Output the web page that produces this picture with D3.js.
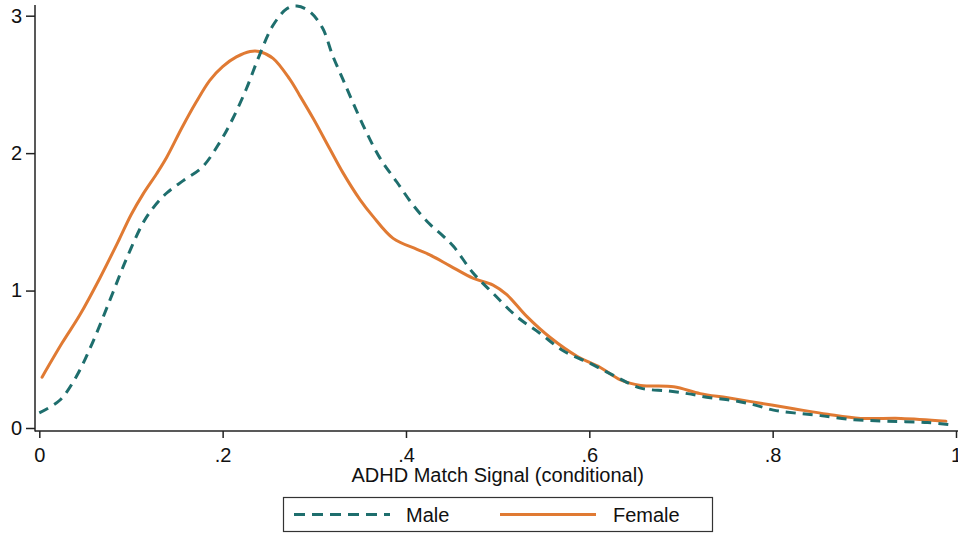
<!DOCTYPE html>
<html>
<head>
<meta charset="utf-8">
<script src="https://cdn.jsdelivr.net/npm/d3@7"></script>
<style>
  html, body { margin: 0; padding: 0; background: #fff; }
  svg { display: block; font-family: "Liberation Sans", Arial, sans-serif; }
</style>
</head>
<body>
<svg id="chart" width="958" height="533"></svg>
<script>
// ---- Data ----
const seriesNames = ["Male", "Female"];
const maleX = [0.000,0.022,0.040,0.058,0.077,0.095,0.113,0.124,0.139,0.157,0.178,0.197,0.211,0.226,0.240,0.255,0.270,0.281,0.295,0.309,0.320,0.331,0.342,0.357,0.372,0.390,0.408,0.425,0.440,0.452,0.473,0.495,0.521,0.546,0.572,0.601,0.630,0.656,0.685,0.707,0.732,0.757,0.779,0.801,0.823,0.852,0.889,0.925,0.969,0.998];
const maleY = [0.11,0.20,0.37,0.62,0.93,1.23,1.49,1.60,1.71,1.80,1.90,2.08,2.25,2.47,2.71,2.93,3.05,3.07,3.03,2.91,2.71,2.54,2.37,2.15,1.96,1.79,1.62,1.49,1.40,1.32,1.13,0.98,0.81,0.69,0.56,0.47,0.37,0.29,0.27,0.25,0.22,0.20,0.17,0.13,0.11,0.09,0.06,0.05,0.04,0.02];
const femaleX = [0.003,0.025,0.044,0.066,0.087,0.100,0.113,0.128,0.139,0.156,0.171,0.186,0.200,0.215,0.230,0.240,0.255,0.273,0.284,0.299,0.317,0.331,0.350,0.364,0.386,0.412,0.426,0.448,0.473,0.495,0.510,0.532,0.557,0.587,0.612,0.634,0.656,0.692,0.721,0.751,0.787,0.823,0.860,0.896,0.940,0.989];
const femaleY = [0.37,0.62,0.82,1.09,1.37,1.55,1.70,1.85,1.97,2.19,2.37,2.53,2.63,2.70,2.74,2.74,2.69,2.54,2.42,2.25,2.03,1.86,1.66,1.54,1.38,1.30,1.26,1.18,1.09,1.04,0.97,0.81,0.66,0.52,0.44,0.35,0.31,0.30,0.25,0.22,0.18,0.14,0.10,0.07,0.07,0.05];
const xTicks = [0, 0.2, 0.4, 0.6, 0.8, 1];
const xTickLabels = ["0", ".2", ".4", ".6", ".8", "1"];
const yTicks = [0, 1, 2, 3];
const yTickLabels = ["0", "1", "2", "3"];
const xTitle = "ADHD Match Signal (conditional)";

// ---- Layout / style ----
const colors = { Male: "#1e6e6d", Female: "#e07a33" };
const svg = d3.select("#chart");
const x = d3.scaleLinear().domain([0, 1]).range([39.3, 956]);
const y = d3.scaleLinear().domain([0, 3]).range([428, 15.7]);
const axisX = 35, axisY = 431;

// axis lines
svg.append("line").attr("x1", axisX).attr("x2", axisX).attr("y1", 5).attr("y2", axisY + 0.5)
  .attr("stroke", "#222").attr("stroke-width", 1.5);
svg.append("line").attr("x1", axisX).attr("x2", 958).attr("y1", axisY).attr("y2", axisY)
  .attr("stroke", "#222").attr("stroke-width", 1.5);

// y axis
const gy = svg.append("g").attr("transform", `translate(${axisX},0)`)
  .call(d3.axisLeft(y).tickValues(yTicks).tickSize(9).tickPadding(4)
    .tickFormat((d, i) => yTickLabels[i]));
gy.select(".domain").remove();
gy.selectAll(".tick line").attr("stroke", "#222").attr("stroke-width", 1.5);
gy.selectAll(".tick text").attr("font-size", 20).attr("fill", "#111")
  .attr("font-family", "Liberation Sans, Arial, sans-serif");

// x axis
const gx = svg.append("g").attr("transform", `translate(0,${axisY})`)
  .call(d3.axisBottom(x).tickValues(xTicks).tickSize(7).tickPadding(10)
    .tickFormat((d, i) => xTickLabels[i]));
gx.select(".domain").remove();
gx.selectAll(".tick line").attr("stroke", "#222").attr("stroke-width", 1.5);
gx.selectAll(".tick text").attr("font-size", 20).attr("fill", "#111")
  .attr("font-family", "Liberation Sans, Arial, sans-serif");

// x title
svg.append("text").attr("x", (x(0) + x(1)) / 2).attr("y", 482)
  .attr("text-anchor", "middle").attr("font-size", 20).attr("fill", "#111")
  .text(xTitle);

// lines
const line = d3.line().x(d => x(d[0])).y(d => y(d[1])).curve(d3.curveCatmullRom.alpha(0.5));
const maleData = maleX.map((v, i) => [v, maleY[i]]);
const femaleData = femaleX.map((v, i) => [v, femaleY[i]]);

svg.append("path").datum(femaleData).attr("d", line)
  .attr("fill", "none").attr("stroke", colors.Female).attr("stroke-width", 3)
  .attr("stroke-linejoin", "round").attr("stroke-linecap", "round");
svg.append("path").datum(maleData).attr("d", line)
  .attr("fill", "none").attr("stroke", colors.Male).attr("stroke-width", 3)
  .attr("stroke-dasharray", "10,7");

// legend
const lg = svg.append("g");
lg.append("rect").attr("x", 283.5).attr("y", 497.5).attr("width", 429).attr("height", 34)
  .attr("fill", "#fff").attr("stroke", "#333").attr("stroke-width", 1.2);
lg.append("line").attr("x1", 294).attr("x2", 390).attr("y1", 514.5).attr("y2", 514.5)
  .attr("stroke", colors.Male).attr("stroke-width", 3).attr("stroke-dasharray", "11,7");
lg.append("text").attr("x", 406).attr("y", 521.5).attr("font-size", 20).attr("fill", "#111").text(seriesNames[0]);
lg.append("line").attr("x1", 500).attr("x2", 596).attr("y1", 514.5).attr("y2", 514.5)
  .attr("stroke", colors.Female).attr("stroke-width", 3);
lg.append("text").attr("x", 613).attr("y", 521.5).attr("font-size", 20).attr("fill", "#111").text(seriesNames[1]);
</script>
</body>
</html>
